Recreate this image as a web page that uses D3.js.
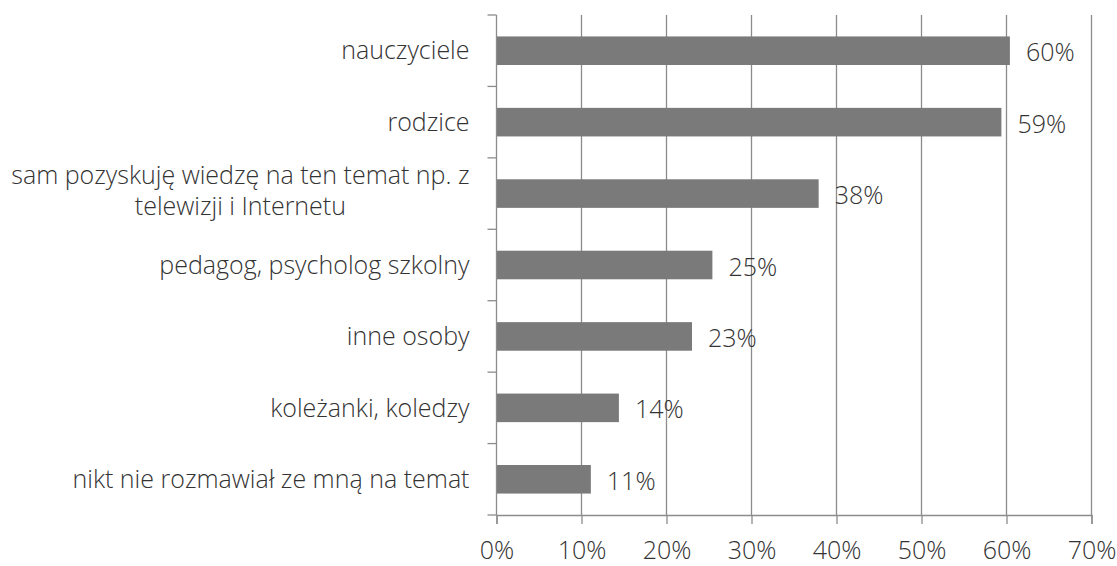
<!DOCTYPE html>
<html>
<head>
<meta charset="utf-8">
<script src="https://cdn.jsdelivr.net/npm/d3@7"></script>
<style>
  html, body { margin: 0; padding: 0; background: #fff; }
  svg text { font-family: "Open Sans", "Segoe UI", sans-serif; font-weight: 300; fill: #333333; }
</style>
</head>
<body>
<svg id="chart" width="1117" height="566"></svg>
<script>
// Sources of information (share of respondents, %)
const categories = [
  ["nauczyciele"],
  ["rodzice"],
  ["sam pozyskuję wiedzę na ten temat np. z", "telewizji i Internetu"],
  ["pedagog, psycholog szkolny"],
  ["inne osoby"],
  ["koleżanki, koledzy"],
  ["nikt nie rozmawiał ze mną na temat"]
];
const values = [60.4, 59.4, 37.9, 25.4, 23.0, 14.4, 11.1];
const xTicks = [0, 10, 20, 30, 40, 50, 60, 70];

const svg = d3.select("#chart");
const margin = { top: 15, left: 496.5, right: 25.5, bottom: 51 };
const W = 1117, H = 566;
const innerW = W - margin.left - margin.right;
const innerH = H - margin.top - margin.bottom;
const fontSize = 25;

const g = svg.append("g").attr("transform", `translate(${margin.left},${margin.top})`);

const x = d3.scaleLinear().domain([0, 70]).range([0, innerW]);
const y = d3.scaleBand().domain(d3.range(categories.length)).range([0, innerH]).paddingInner(0.6).paddingOuter(0.3);
const yEdges = d3.scaleLinear().domain([0, categories.length]).range([0, innerH]);

const gridColor = "#8c8c8c";

// vertical gridlines
g.append("g").selectAll("line").data(xTicks.slice(1)).join("line")
  .attr("x1", d => x(d)).attr("x2", d => x(d))
  .attr("y1", 0).attr("y2", innerH)
  .attr("stroke", gridColor).attr("stroke-width", 1.3);

// bars
g.append("g").selectAll("rect").data(values).join("rect")
  .attr("x", 0)
  .attr("y", (d, i) => y(i))
  .attr("width", d => x(d))
  .attr("height", y.bandwidth())
  .attr("fill", "#7a7a7a");

// value labels
g.append("g").selectAll("text").data(values).join("text")
  .attr("x", d => x(d) + 16)
  .attr("y", (d, i) => y(i) + y.bandwidth() / 2)
  .attr("dy", "0.42em")
  .attr("font-size", fontSize)
  .text(d => Math.round(d) + "%");

// x axis
const xAxis = g.append("g").attr("transform", `translate(0,${innerH})`)
  .call(d3.axisBottom(x).tickValues(xTicks).tickFormat(d => d + "%").tickSize(9).tickPadding(17));
xAxis.select(".domain").attr("stroke", gridColor).attr("stroke-width", 1.3);
xAxis.selectAll(".tick line").attr("stroke", gridColor).attr("stroke-width", 1.3);
xAxis.selectAll(".tick text").attr("font-size", fontSize).attr("font-family", null).style("fill", "#333333");

// y axis line with ticks at category boundaries
g.append("line").attr("x1", 0).attr("x2", 0).attr("y1", 0).attr("y2", innerH)
  .attr("stroke", gridColor).attr("stroke-width", 1.3);
g.append("g").selectAll("line").data(d3.range(categories.length + 1)).join("line")
  .attr("x1", -9).attr("x2", 0)
  .attr("y1", d => yEdges(d)).attr("y2", d => yEdges(d))
  .attr("stroke", gridColor).attr("stroke-width", 1.3);

// category labels
const lineH = 31;
const labels = g.append("g").selectAll("text").data(categories).join("text")
  .attr("font-size", fontSize);
labels.each(function(lines, i) {
  const t = d3.select(this);
  const cy = y(i) + y.bandwidth() / 2 - (lines.length > 1 ? 3 : 0);
  lines.forEach((ln, k) => {
    t.append("tspan")
      .attr("x", -27)
      .attr("y", cy + (k - (lines.length - 1) / 2) * lineH)
      .attr("dy", "0.35em")
      .attr("text-anchor", lines.length > 1 ? "middle" : "end")
      .text(ln);
  });
});
// centre multi-line labels on the widest line, right edge at the axis offset
labels.filter(d => d.length > 1).each(function() {
  const tsp = d3.select(this).selectAll("tspan");
  let maxW = 0;
  tsp.each(function() { maxW = Math.max(maxW, this.getComputedTextLength()); });
  tsp.attr("x", -27 - maxW / 2);
});
</script>
</body>
</html>
